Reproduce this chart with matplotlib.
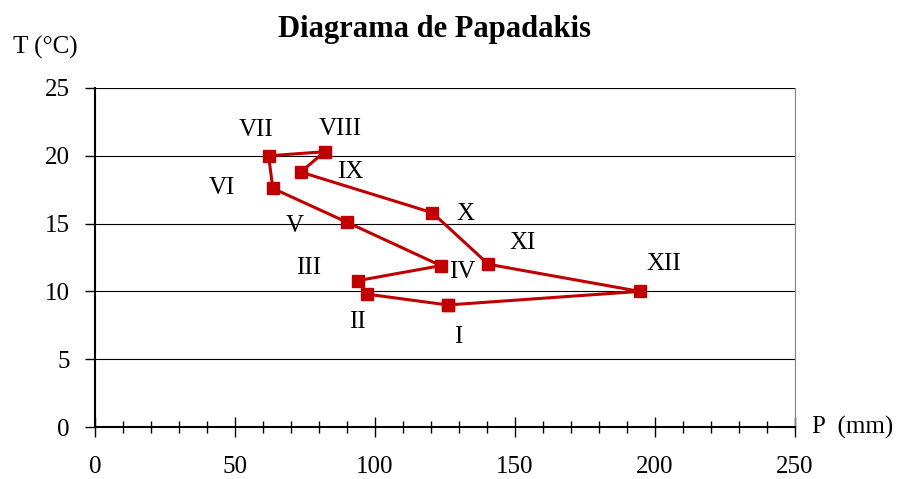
import matplotlib
matplotlib.use("Agg")
import matplotlib.pyplot as plt
from matplotlib.ticker import MultipleLocator

# --- data ----------------------------------------------------------------
months = ["I", "II", "III", "IV", "V", "VI", "VII", "VIII", "IX", "X", "XI", "XII"]
precip_mm = [126, 97, 94, 123.5, 90, 63.5, 62, 82, 73.5, 120.5, 140.5, 194.5]
temp_c = [9.0, 9.8, 10.8, 11.9, 15.1, 17.6, 20.0, 20.3, 18.8, 15.8, 12.0, 10.0]

# label offsets from each marker (pixels)
label_offsets = {
    "I": (10, -32), "II": (-9, -28), "III": (-50, 13), "IV": (21, -6),
    "V": (-52, -4), "VI": (-51, 0), "VII": (-13, 26), "VIII": (16, 23),
    "IX": (49, 0), "X": (33, -1), "XI": (34, 21), "XII": (24, 27),
}

RED = "#c00000"
FS = 18
plt.rcParams["font.family"] = ["Liberation Serif", "DejaVu Serif"]

fig = plt.figure(figsize=(9.01, 4.79), dpi=100)
ax = fig.add_axes([95 / 901, 1 - 427 / 479, 700 / 901, 339 / 479])

# closed loop: back to January
xs = precip_mm + precip_mm[:1]
ys = temp_c + temp_c[:1]
ax.plot(xs, ys, color=RED, linewidth=2.2, marker="s", markersize=9,
        markerfacecolor=RED, markeredgecolor=RED, zorder=3, clip_on=False)

for m, x, y in zip(months, precip_mm, temp_c):
    dx, dy = label_offsets[m]
    ax.annotate(m, (x, y), xytext=(dx, dy), textcoords="offset pixels",
                ha="center", va="center", fontsize=FS)

ax.set_xlim(0, 250)
ax.set_ylim(0, 25)
ax.xaxis.set_major_locator(MultipleLocator(50))
ax.xaxis.set_minor_locator(MultipleLocator(10))
ax.yaxis.set_major_locator(MultipleLocator(5))
ax.grid(True, axis="y", color="black", linewidth=0.8)

ax.spines["left"].set_linewidth(1.5)
ax.spines["bottom"].set_linewidth(1.5)
ax.spines["top"].set_visible(False)
ax.spines["right"].set_color("#808080")
ax.spines["right"].set_linewidth(0.8)

ax.tick_params(axis="x", which="major", direction="inout", length=14, width=1,
               labelsize=FS, pad=14)
ax.tick_params(axis="x", which="minor", direction="inout", length=8, width=1)
ax.tick_params(axis="y", which="major", direction="out", length=7, width=1,
               labelsize=FS, pad=11)

fig.text(45 / 901, 1 - 47 / 479, "T (°C)", ha="center", va="center",
         fontsize=FS)
fig.text(812 / 901, 1 - 427 / 479, "P  (mm)", ha="left", va="center",
         fontsize=FS)
fig.text(434 / 901, 1 - 30 / 479, "Diagrama de Papadakis", ha="center",
         va="center", fontsize=22, fontweight="bold")

fig.savefig("out.png", dpi=100)
